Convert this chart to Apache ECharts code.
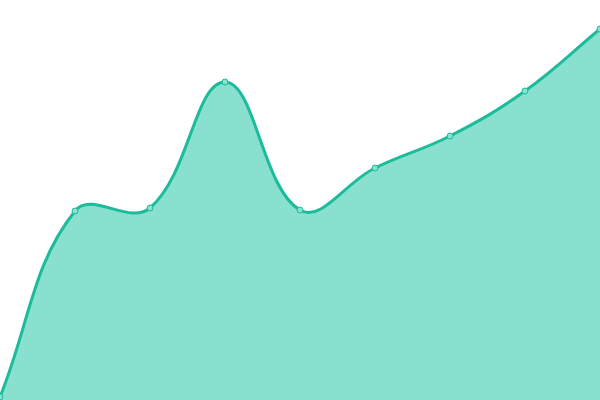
<!DOCTYPE html>
<html><head><meta charset="utf-8">
<script src="https://cdn.jsdelivr.net/npm/echarts@6/dist/echarts.min.js"></script>
<style>html,body{margin:0;padding:0;background:#fff}#c{width:600px;height:400px}</style>
</head><body><div id="c"></div>
<script>
const categories = ['1','2','3','4','5','6','7','8','9'];
const values = [3, 189, 192, 318, 190, 232, 264, 309, 371];
const chart = echarts.init(document.getElementById('c'));

function splinePath(pts, t) {
  const n = pts.length, cps = [];
  for (let i = 0; i < n; i++) {
    const prev = pts[Math.max(i - 1, 0)], cur = pts[i], next = pts[Math.min(i + 1, n - 1)];
    const d01 = Math.hypot(cur[0] - prev[0], cur[1] - prev[1]);
    const d12 = Math.hypot(next[0] - cur[0], next[1] - cur[1]);
    let s01 = d01 / (d01 + d12), s12 = d12 / (d01 + d12);
    if (!isFinite(s01)) s01 = 0; if (!isFinite(s12)) s12 = 0;
    const fa = t * s01, fb = t * s12;
    cps.push({
      prev: [cur[0] - fa * (next[0] - prev[0]), cur[1] - fa * (next[1] - prev[1])],
      next: [cur[0] + fb * (next[0] - prev[0]), cur[1] + fb * (next[1] - prev[1])]
    });
  }
  let d = 'M' + pts[0][0] + ' ' + pts[0][1];
  for (let i = 0; i < n - 1; i++) {
    const a = cps[i].next, b = cps[i + 1].prev, p = pts[i + 1];
    d += ' C' + a[0] + ' ' + a[1] + ' ' + b[0] + ' ' + b[1] + ' ' + p[0] + ' ' + p[1];
  }
  return d;
}

chart.setOption({
  animation: false,
  grid: {left: 0, right: 0, top: 0, bottom: 0},
  xAxis: {type: 'category', data: categories, boundaryGap: false, show: false},
  yAxis: {type: 'value', min: 0, max: 400, show: false},
  series: [{
    type: 'custom',
    data: values.map((v, i) => [i, v]),
    clip: true,
    renderItem: function (params, api) {
      if (params.dataIndex !== 0) return null;
      const pts = values.map((v, i) => api.coord([i, v]));
      const base0 = api.coord([0, 0]), baseN = api.coord([values.length - 1, 0]);
      const line = splinePath(pts, 0.4);
      const area = line + ' L' + baseN[0] + ' ' + baseN[1] + ' L' + base0[0] + ' ' + base0[1] + ' Z';
      return {
        type: 'group',
        children: [
          {type: 'path', shape: {pathData: area}, style: {fill: '#8ae0cf', stroke: null}},
          {type: 'path', shape: {pathData: line}, style: {fill: null, stroke: '#1abc9c', lineWidth: 3}}
        ]
      };
    }
  }, {
    type: 'scatter',
    data: values.map((v, i) => [i, v]),
    symbol: 'circle',
    symbolSize: 6,
    itemStyle: {color: '#8ae0cf', borderColor: '#1abc9c', borderWidth: 1, opacity: 1},
    z: 5
  }]
});
</script></body></html>
